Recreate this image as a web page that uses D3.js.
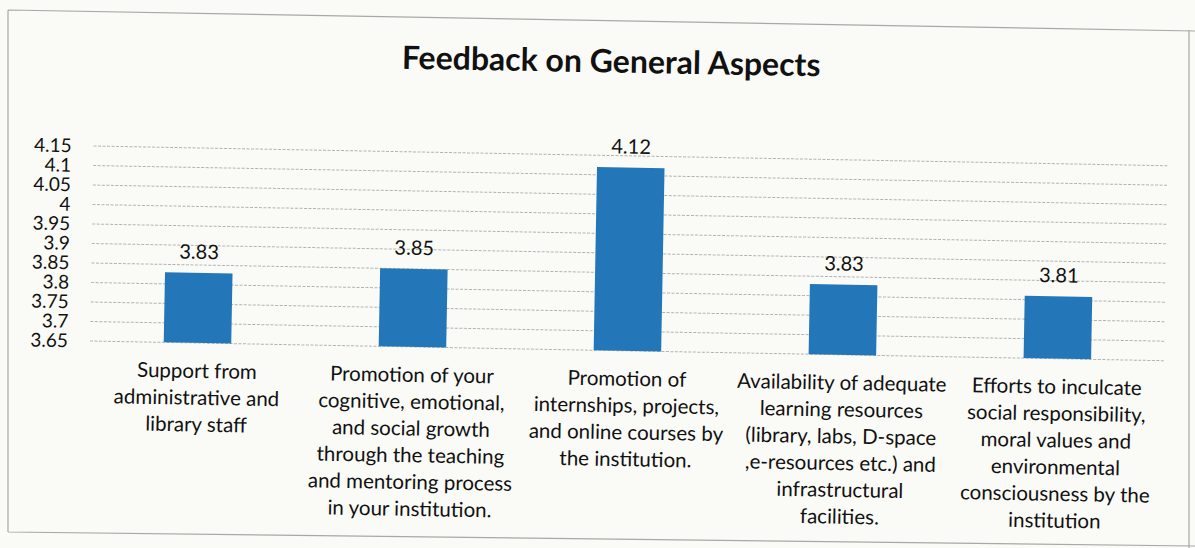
<!DOCTYPE html>
<html>
<head>
<meta charset="utf-8">
<script src="https://cdn.jsdelivr.net/npm/d3@7"></script>
<style>
  html, body { margin: 0; padding: 0; background: #fafaf7; }
  svg { display: block; }
  text { font-family: Lato, "Open Sans", sans-serif; fill: #111; }
</style>
</head>
<body>
<svg id="chart" width="1195" height="548"></svg>
<script>
// Survey averages, one per aspect
const categories = [
  "Support from administrative and library staff",
  "Promotion of your cognitive, emotional, and social growth through the teaching and mentoring process in your institution.",
  "Promotion of internships, projects, and online courses by the institution.",
  "Availability of adequate learning resources (library, labs, D-space ,e-resources etc.) and infrastructural facilities.",
  "Efforts to inculcate social responsibility, moral values and environmental consciousness by the institution"
];
const categoryLines = [
  ["Support from", "administrative and", "library staff"],
  ["Promotion of your", "cognitive, emotional,", "and social growth", "through the teaching", "and mentoring process", "in your institution."],
  ["Promotion of", "internships, projects,", "and online courses by", "the institution."],
  ["Availability of adequate", "learning resources", "(library, labs, D-space", ",e-resources etc.) and", "infrastructural", "facilities."],
  ["Efforts to inculcate", "social responsibility,", "moral values and", "environmental", "consciousness by the", "institution"]
];
const values = [3.83, 3.85, 4.12, 3.83, 3.81];
const yTicks = [3.65, 3.7, 3.75, 3.8, 3.85, 3.9, 3.95, 4, 4.05, 4.1, 4.15];
const yTickLabels = ["3.65", "3.7", "3.75", "3.8", "3.85", "3.9", "3.95", "4", "4.05", "4.1", "4.15"];
const title = "Feedback on General Aspects";

const svg = d3.select("#chart");

// page frame around the chart
svg.append("path")
  .attr("d", "M8,10 L1195,31 M8,10 L8,532 M8,532 L1195,546 M1189,30 L1189,548")
  .attr("fill", "none")
  .attr("stroke", "#a8a8a8")
  .attr("stroke-width", 1.2);

const plotLeft = 90, plotRight = 1165, plotTop = 146, plotBottom = 341;

// the whole chart sits slightly tilted on the page
const g = svg.append("g").attr("transform", `rotate(1.05, ${plotLeft}, ${plotBottom})`);

const x = d3.scaleBand()
  .domain(categories)
  .range([plotLeft, plotRight])
  .paddingInner(0.686)
  .paddingOuter(0.343);

const y = d3.scaleLinear()
  .domain([yTicks[0], yTicks[yTicks.length - 1]])
  .range([plotBottom, plotTop]);

// horizontal gridlines
g.append("g").selectAll("line")
  .data(yTicks)
  .join("line")
  .attr("x1", plotLeft)
  .attr("x2", plotRight)
  .attr("y1", d => y(d))
  .attr("y2", d => y(d))
  .attr("stroke", "#b3b3b3")
  .attr("stroke-width", 1)
  .attr("stroke-dasharray", "3,1.5");

// value axis labels
const yAxis = d3.axisLeft(y)
  .tickValues(yTicks)
  .tickFormat((d, i) => yTickLabels[i])
  .tickSize(0)
  .tickPadding(22);
const ya = g.append("g").attr("transform", `translate(${plotLeft},0)`).call(yAxis);
ya.select(".domain").remove();
ya.selectAll("text")
  .style("font-family", "Lato, sans-serif")
  .style("font-size", "19px")
  .attr("fill", "#111");

// bars
g.append("g").selectAll("rect")
  .data(values)
  .join("rect")
  .attr("x", (d, i) => x(categories[i]))
  .attr("width", x.bandwidth())
  .attr("y", d => y(d))
  .attr("height", d => y(yTicks[0]) - y(d))
  .attr("fill", "#2376b7");

// value labels
g.append("g").selectAll("text")
  .data(values)
  .join("text")
  .attr("x", (d, i) => x(categories[i]) + x.bandwidth() / 2)
  .attr("y", d => y(d) - 14)
  .attr("text-anchor", "middle")
  .style("font-size", "20px")
  .text(d => d.toFixed(2));

// category labels
const cat = g.append("g").selectAll("text")
  .data(categoryLines)
  .join("text")
  .attr("text-anchor", "middle")
  .style("font-size", "20.5px")
  .attr("transform", (d, i) => `translate(${x(categories[i]) + x.bandwidth() / 2},${plotBottom + 35})`);
cat.selectAll("tspan")
  .data(d => d)
  .join("tspan")
  .attr("x", 0)
  .attr("y", (d, j) => j * 26.8)
  .text(d => d);

// title
g.append("text")
  .attr("x", 606)
  .attr("y", 63)
  .attr("text-anchor", "middle")
  .style("font-size", "32px")
  .style("font-weight", "700")
  .text(title);
</script>
</body>
</html>
